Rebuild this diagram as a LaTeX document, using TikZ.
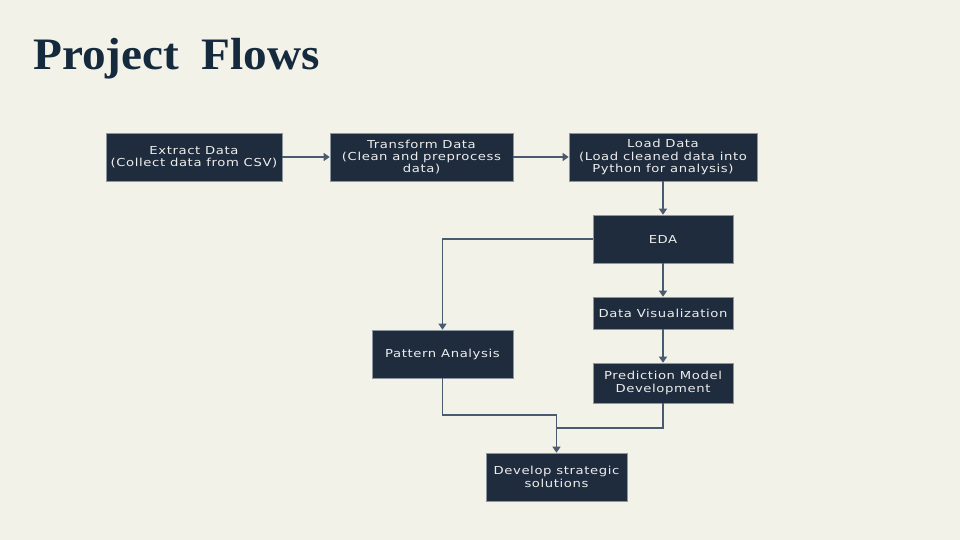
\documentclass[tikz,border=0pt]{standalone}
\usepackage{fontspec}
\setmainfont{DejaVu Sans}[FakeStretch=1.2, LetterSpace=5.5]
\newfontfamily\titlefont{Liberation Serif}[FakeStretch=1.05]
\usetikzlibrary{arrows.meta}
\definecolor{bg}{HTML}{F2F2E8}
\definecolor{boxfill}{HTML}{1F2C3D}
\definecolor{boxline}{HTML}{8C96A0}
\definecolor{linecol}{HTML}{4A5B6F}
\definecolor{titlecol}{HTML}{162A3E}
\definecolor{txt}{HTML}{EDEDED}
\tikzset{
  flowbox/.style={draw=boxline, line width=0.6pt, fill=boxfill, text=txt, align=center,
    inner sep=0pt, font=\fontsize{11}{12.3}\selectfont},
  conn/.style={draw=linecol, line width=1.1pt},
  arr/.style={conn, -{Triangle[width=8pt,length=6pt]}}
}
\begin{document}
\begin{tikzpicture}[x=1pt,y=-1pt]
\fill[bg] (0,0) rectangle (960,540);
\useasboundingbox (0,0) rectangle (960,540);
\node[anchor=base west, inner sep=0pt, text=titlecol, font=\titlefont\bfseries\fontsize{45}{50}\selectfont] (title) at (33,70) {Project\hspace{0.5em}Flows};

\node[flowbox, minimum width=176pt, minimum height=48pt] (extract) at (194,157) {Extract Data\\(Collect data from CSV)};
\node[flowbox, minimum width=183pt, minimum height=48pt] (transform) at (421.5,157) {Transform Data\\(Clean and preprocess\\data)};
\node[flowbox, minimum width=188pt, minimum height=48pt] (load) at (663,157) {Load Data\\(Load cleaned data into\\Python for analysis)};
\node[flowbox, minimum width=140pt, minimum height=48pt] (eda) at (663,239) {EDA};
\node[flowbox, minimum width=140pt, minimum height=32pt] (viz) at (663,313) {Data Visualization};
\node[flowbox, minimum width=140pt, minimum height=40pt] (pred) at (663,383) {Prediction Model\\Development};
\node[flowbox, minimum width=141pt, minimum height=48pt] (pattern) at (442.5,354) {Pattern Analysis};
\node[flowbox, minimum width=141pt, minimum height=48pt] (develop) at (556.5,477) {Develop strategic\\solutions};

\coordinate (j1) at (556.5,415);
\coordinate (j2) at (556.5,428);

\draw[arr] (extract) -- (transform);
\draw[arr] (transform) -- (load);
\draw[arr] (load) -- (eda);
\draw[arr] (eda) -- (viz);
\draw[arr] (viz) -- (pred);
\draw[arr] (eda.west) -| (pattern.north);
\draw[conn] (pattern.south) |- (j1);
\draw[conn] (pred.south) |- (j2);
\draw[arr] (j1) -- (develop.north);
\end{tikzpicture}
\end{document}
